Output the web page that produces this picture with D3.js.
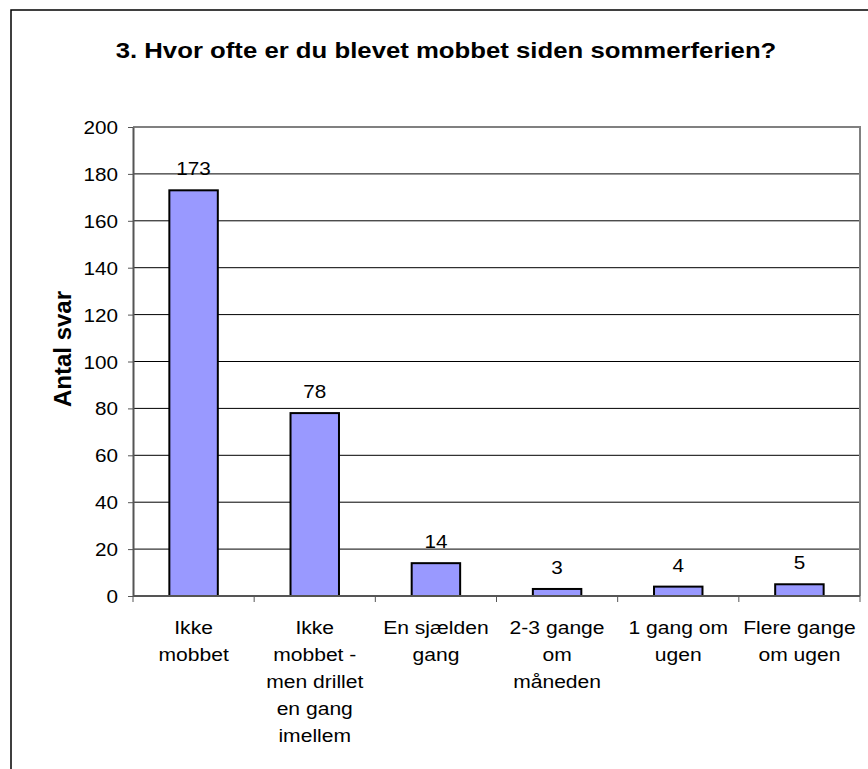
<!DOCTYPE html>
<html>
<head>
<meta charset="utf-8">
<script src="https://cdn.jsdelivr.net/npm/d3@7"></script>
<style>
  body { margin: 0; background: #fff; }
  text { font-family: Arial, "Liberation Sans", sans-serif; fill: #000; }
</style>
</head>
<body>
<svg id="chart" width="868" height="769"></svg>
<script>
const categories = [
  ["Ikke", "mobbet"],
  ["Ikke", "mobbet -", "men drillet", "en gang", "imellem"],
  ["En sjælden", "gang"],
  ["2-3 gange", "om", "måneden"],
  ["1 gang om", "ugen"],
  ["Flere gange", "om ugen"]
];
const counts = [173, 78, 14, 3, 4, 5];
const yTicks = [0, 20, 40, 60, 80, 100, 120, 140, 160, 180, 200];
const title = "3. Hvor ofte er du blevet mobbet siden sommerferien?";
const yTitle = "Antal svar";

// the picture is a bit stretched sideways, so text gets a x-scale
const SX = 1.15;

const svg = d3.select("#chart");
const plotL = 133, plotR = 860, plotT = 127, plotB = 596;

const keys = categories.map((c, i) => i);
const x = d3.scaleBand().domain(keys).range([plotL, plotR]).paddingInner(0.6).paddingOuter(0.3);
const y = d3.scaleLinear().domain([0, 200]).range([plotB, plotT]);

// outer frame
svg.append("rect")
  .attr("x", 11).attr("y", 10).attr("width", 900).attr("height", 800)
  .attr("fill", "none").attr("stroke", "#000").attr("stroke-width", 1.5);

// title
svg.append("text")
  .attr("transform", `translate(446,58) scale(1.17,1)`)
  .attr("text-anchor", "middle")
  .attr("font-weight", "bold")
  .attr("font-size", "22px")
  .text(title);

// gridlines
svg.append("g")
  .selectAll("line")
  .data(yTicks.filter(t => t > 0 && t < 200))
  .enter()
  .append("line")
  .attr("x1", plotL).attr("x2", plotR)
  .attr("y1", d => y(d)).attr("y2", d => y(d))
  .attr("stroke", "#000").attr("stroke-width", 1);

// plot border top/right
svg.append("path")
  .attr("d", `M${plotL},${plotT}H${plotR}V${plotB}`)
  .attr("fill", "none").attr("stroke", "#808080").attr("stroke-width", 2);

// bars
svg.append("g")
  .selectAll("rect")
  .data(counts)
  .enter()
  .append("rect")
  .attr("x", (d, i) => x(i))
  .attr("y", d => y(d))
  .attr("width", x.bandwidth())
  .attr("height", d => y(0) - y(d))
  .attr("fill", "#9999ff")
  .attr("stroke", "#000")
  .attr("stroke-width", 2);

// value labels
svg.append("g")
  .selectAll("text")
  .data(counts)
  .enter()
  .append("text")
  .attr("transform", (d, i) => `translate(${x(i) + x.bandwidth() / 2},${y(d) - 15}) scale(${SX},1)`)
  .attr("text-anchor", "middle")
  .attr("font-size", "18px")
  .text(d => d);

// y axis
const yAxis = svg.append("g")
  .attr("transform", `translate(${plotL},0)`)
  .call(d3.axisLeft(y).tickValues(yTicks).tickSize(5).tickSizeOuter(0));
yAxis.select(".domain").attr("stroke", "#555").attr("stroke-width", 2);
yAxis.selectAll(".tick line").attr("stroke", "#555");
yAxis.selectAll(".tick text")
  .attr("x", null).attr("dy", null)
  .attr("font-size", "18px")
  .attr("font-family", "Arial, 'Liberation Sans', sans-serif")
  .attr("transform", `translate(-15,6.5) scale(${SX},1)`)
  .attr("text-anchor", "end");

// x axis (ticks at category boundaries)
const edges = d3.range(categories.length + 1).map(i => plotL + i * (plotR - plotL) / categories.length);
svg.append("line")
  .attr("x1", plotL).attr("x2", plotR)
  .attr("y1", plotB).attr("y2", plotB)
  .attr("stroke", "#555").attr("stroke-width", 2);
svg.append("g")
  .selectAll("line")
  .data(edges)
  .enter()
  .append("line")
  .attr("x1", d => d).attr("x2", d => d)
  .attr("y1", plotB).attr("y2", plotB + 6)
  .attr("stroke", "#555").attr("stroke-width", 1);

// category labels
const catG = svg.append("g")
  .selectAll("g")
  .data(categories)
  .enter()
  .append("g")
  .attr("transform", (d, i) => `translate(${x(i) + x.bandwidth() / 2},634)`);
catG.selectAll("text")
  .data(d => d)
  .enter()
  .append("text")
  .attr("transform", (d, j) => `translate(0,${j * 27}) scale(1.14,1)`)
  .attr("text-anchor", "middle")
  .attr("font-size", "18.5px")
  .text(d => d);

// y axis title
svg.append("text")
  .attr("transform", "translate(71,349) rotate(-90)")
  .attr("text-anchor", "middle")
  .attr("font-weight", "bold")
  .attr("font-size", "24px")
  .text(yTitle);
</script>
</body>
</html>
